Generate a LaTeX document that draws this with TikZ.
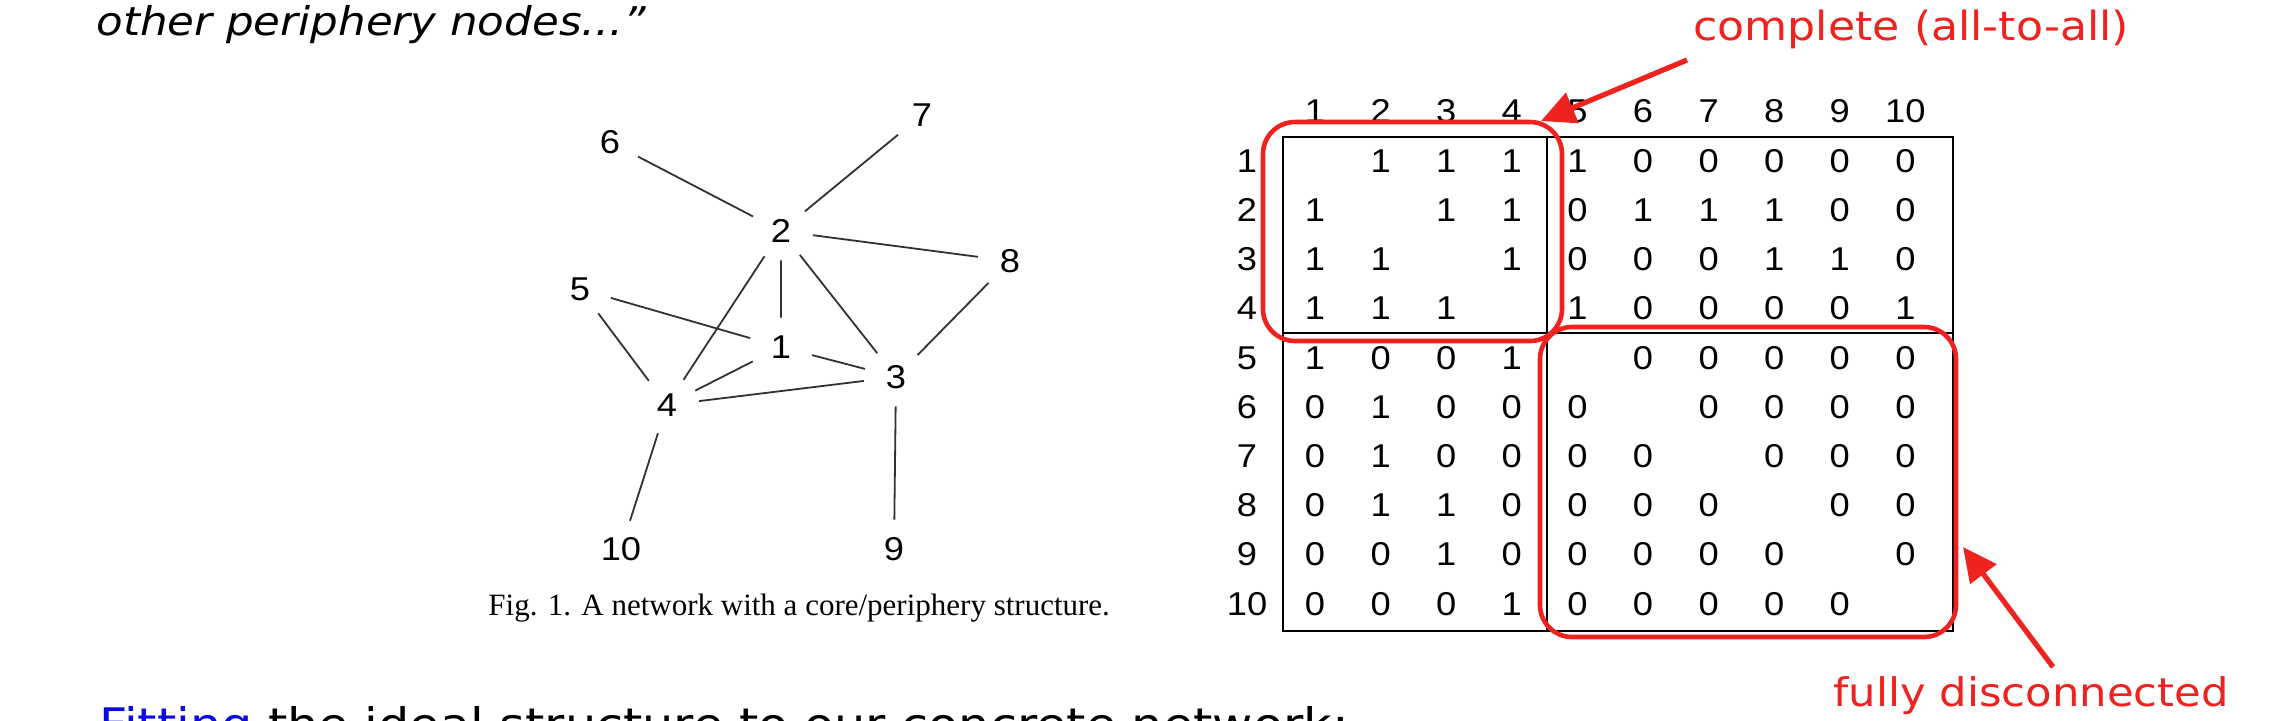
\documentclass[tikz,border=0pt]{standalone}
\usepackage{fontspec}
\setmainfont{Liberation Sans}
\newfontfamily\slidefont{DejaVu Sans}
\newfontfamily\capfont{Liberation Serif}
\usetikzlibrary{arrows.meta}
\definecolor{annred}{RGB}{238,34,30}
\definecolor{linkblue}{RGB}{10,10,225}
\definecolor{edgegray}{RGB}{50,50,50}
\begin{document}
\begin{tikzpicture}[x=0.5pt,y=-0.5pt,
  stretch/.style={xscale=1.1},
  gnode/.style={circle,inner sep=0pt,minimum size=29pt,font=\fontsize{16.5}{16}\selectfont,stretch},
  edge/.style={draw=edgegray,line width=0.9pt},
  mcell/.style={inner sep=0pt,font=\fontsize{16.5}{16}\selectfont,stretch},
  mline/.style={draw=black,line width=1.2pt},
  redbox/.style={draw=annred,line width=2.3pt,rounded corners=16pt},
  redarrow/.style={draw=annred,line width=2.6pt,-{Triangle[length=17pt,width=16pt]}},
  slidetext/.style={inner sep=0pt,font=\slidefont\fontsize{19.8}{22}\selectfont,stretch},
  annotext/.style={inner sep=0pt,text=annred,font=\slidefont\fontsize{20.1}{22}\selectfont,stretch},
  captext/.style={inner sep=0pt,font=\capfont\fontsize{15.5}{17}\selectfont}
]
\useasboundingbox (0,0) rectangle (2282,720);
\clip (0,0) rectangle (2282,720);
\fill[white] (0,0) rectangle (2282,720);

% slide text
\node[slidetext,anchor=base west] (quote) at (96,35) {\itshape other periphery nodes...”};
\node[slidetext,anchor=base west,font=\slidefont\fontsize{22.4}{24}\selectfont] (fit) at (99,740)
  {\textcolor{linkblue}{Fitting} the ideal structure to our concrete network:};

% graph
\node[gnode] (n1) at (781,347) {1};
\node[gnode] (n2) at (781,231) {2};
\node[gnode] (n3) at (896,377) {3};
\node[gnode] (n4) at (667,405) {4};
\node[gnode] (n5) at (580,289) {5};
\node[gnode] (n6) at (610,142) {6};
\node[gnode] (n7) at (922,115) {7};
\node[gnode] (n8) at (1010,261) {8};
\node[gnode] (n9) at (894,549) {9};
\node[gnode] (n10) at (621,549) {10};
\foreach \a/\b in {n6/n2,n7/n2,n2/n8,n2/n1,n2/n3,n2/n4,n5/n1,n5/n4,n1/n4,n1/n3,n4/n3,n8/n3,n4/n10,n3/n9}
  \draw[edge] (\a) -- (\b);
\node[captext,anchor=base west] (cap) at (488,615) {Fig. 1. A network with a core/periphery structure.};

% matrix
\foreach \c in {1,...,10}
  \node[mcell] (h-\c) at ({1315+(\c-1)*65.6},111) {\c};
\foreach \r in {1,...,10}
  \node[mcell] (r-\r) at (1247,{161+(\r-1)*49.2}) {\r};
\foreach \row [count=\r] in {
  {x,1,1,1,1,0,0,0,0,0},
  {1,x,1,1,0,1,1,1,0,0},
  {1,1,x,1,0,0,0,1,1,0},
  {1,1,1,x,1,0,0,0,0,1},
  {1,0,0,1,x,0,0,0,0,0},
  {0,1,0,0,0,x,0,0,0,0},
  {0,1,0,0,0,0,x,0,0,0},
  {0,1,1,0,0,0,0,x,0,0},
  {0,0,1,0,0,0,0,0,x,0},
  {0,0,0,1,0,0,0,0,0,x}}{
  \foreach \v [count=\c] in \row {
    \ifnum\r=\c\relax\else
      \node[mcell] (m-\r-\c) at ({1315+(\c-1)*65.6},{161+(\r-1)*49.2}) {\v};
    \fi
  }
}
\draw[mline] (1283,137) rectangle (1953,631);
\draw[mline] (1547,137) -- (1547,631);
\draw[mline] (1283,333) -- (1953,333);

% red annotations
\draw[redbox] (1263,122) rectangle (1562,341);
\draw[redbox] (1540,327) rectangle (1956,637);
\node[annotext,anchor=base west] (complete) at (1693,40) {complete (all-to-all)};
\node[annotext,anchor=base west,font=\slidefont\fontsize{19.7}{22}\selectfont] (discon) at (1833,706) {fully disconnected};
\coordinate (a1s) at (1687,60);
\coordinate (a1e) at (1541,121);
\coordinate (a2s) at (2053,667);
\coordinate (a2e) at (1963,547);
\draw[redarrow] (a1s) -- (a1e);
\draw[redarrow] (a2s) -- (a2e);
\end{tikzpicture}
\end{document}
